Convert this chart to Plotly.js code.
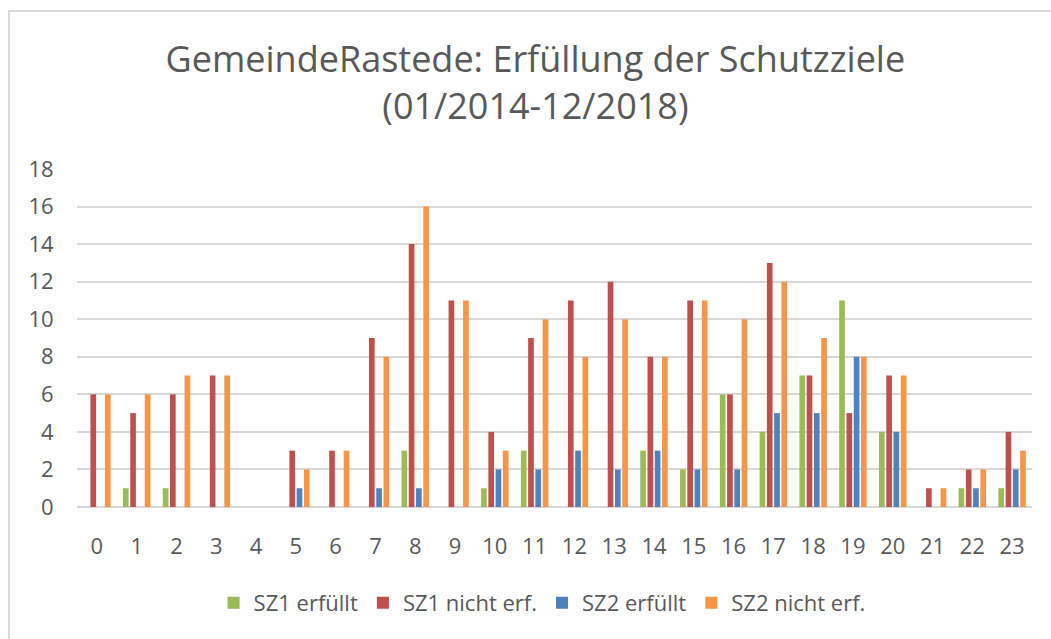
<!DOCTYPE html>
<html>
<head>
<meta charset="utf-8">
<script src="https://cdn.plot.ly/plotly-3.0.1.min.js"></script>
<style>
html,body{margin:0;padding:0;background:#fff;overflow:hidden;}
#frame{position:absolute;left:8px;top:10px;width:1100px;height:700px;border-left:2px solid #d9d9d9;border-top:2px solid #d9d9d9;}
#chart{position:absolute;left:0;top:0;width:1051px;height:639px;}
</style>
</head>
<body>
<div id="frame"></div>
<div id="chart"></div>
<script>
const hours = ["0","1","2","3","4","5","6","7","8","9","10","11","12","13","14","15","16","17","18","19","20","21","22","23"];
const sz1Erfuellt      = [0,1,1,0,0,0,0,0,3,0,1,3,0,0,3,2,6,4,7,11,4,0,1,1];
const sz1NichtErf      = [6,5,6,7,0,3,3,9,14,11,4,9,11,12,8,11,6,13,7,5,7,1,2,4];
const sz2Erfuellt      = [0,0,0,0,0,1,0,1,1,0,2,2,3,2,3,2,2,5,5,8,4,0,1,2];
const sz2NichtErf      = [6,6,7,7,0,2,3,8,16,11,3,10,8,10,8,11,10,12,9,8,7,1,2,3];
const seriesNames = ["SZ1 erfüllt","SZ1 nicht erf.","SZ2 erfüllt","SZ2 nicht erf."];
const seriesColors = ["#9BBB59","#C0504D","#4F81BD","#F79646"];
const yTicks = [0,2,4,6,8,10,12,14,16,18];

const FONT = "Open Sans, Noto Sans, sans-serif";
const seriesData = [sz1Erfuellt, sz1NichtErf, sz2Erfuellt, sz2NichtErf];
const traces = seriesData.map((vals, i) => ({
  type: "bar",
  x: hours,
  y: vals,
  name: seriesNames[i],
  marker: {color: seriesColors[i], line: {width: 0}},
  hoverinfo: "x+y+name"
}));

const layout = {
  width: 1051,
  height: 639,
  paper_bgcolor: "rgba(0,0,0,0)",
  plot_bgcolor: "rgba(0,0,0,0)",
  margin: {l: 77, r: 19, t: 169, b: 132, pad: 0},
  barmode: "group",
  bargap: 0.27,
  bargroupgap: 0.22,
  font: {family: FONT, color: "#595959"},
  title: {
    text: "GemeindeRastede: Erfüllung der Schutzziele<br>(01/2014-12/2018)",
    font: {family: FONT, size: 36, color: "#595959"},
    x: 0.48, xanchor: "center", xref: "paper",
    y: 1 - 72/639, yanchor: "top", yref: "container"
  },
  xaxis: {
    type: "category",
    tickvals: hours,
    ticktext: hours,
    showgrid: false,
    zeroline: false,
    showline: false,
    ticks: "outside",
    ticklen: 20,
    tickcolor: "rgba(0,0,0,0)",
    tickfont: {family: FONT, size: 22, color: "#595959"},
    fixedrange: true
  },
  yaxis: {
    range: [0, 18],
    tickvals: yTicks,
    ticktext: yTicks.map(String),
    showgrid: true,
    gridcolor: "#d9d9d9",
    gridwidth: 2,
    zeroline: true,
    zerolinecolor: "#d9d9d9",
    zerolinewidth: 2,
    showline: false,
    ticks: "outside",
    ticklen: 18,
    tickcolor: "rgba(0,0,0,0)",
    tickfont: {family: FONT, size: 22, color: "#595959"},
    fixedrange: true
  },
  showlegend: true,
  legend: {
    orientation: "h",
    x: 0.487, xanchor: "center", xref: "paper",
    y: 1 - 603/639, yanchor: "middle", yref: "container",
    font: {family: FONT, size: 22, color: "#595959"},
    itemwidth: 30,
    bgcolor: "rgba(0,0,0,0)"
  }
};

Plotly.newPlot("chart", traces, layout, {displayModeBar: false, staticPlot: true});
</script>
</body>
</html>
